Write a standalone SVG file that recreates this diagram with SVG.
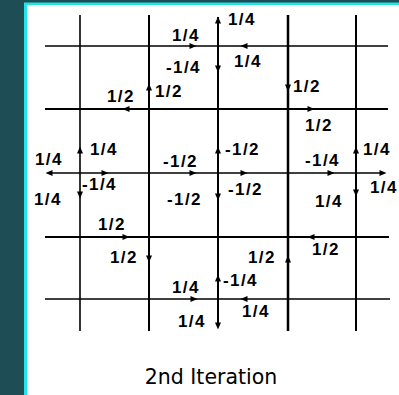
<svg xmlns="http://www.w3.org/2000/svg" width="399" height="395" viewBox="0 0 399 395">
<style>
.g{stroke:#000;fill:none;stroke-linecap:butt}
.v{stroke-width:2}
.h{stroke-width:1.5}
.t{font-family:"Liberation Sans",Arial,sans-serif;font-weight:bold;font-size:17px;letter-spacing:1.4px;fill:#000}
.cap{font-family:"DejaVu Sans",Verdana,sans-serif;font-size:20.5px;fill:#000}
</style>
<defs>
<path id="ah" d="M3.5,0 L-3.5,-3 L-3.5,3 Z" fill="#000"/>
</defs>
<rect x="0" y="0" width="399" height="395" fill="#1e4d55"/>
<rect x="24" y="2.5" width="375" height="392.5" fill="#22e3e6"/>
<rect x="27" y="5" width="372" height="390" fill="#fff"/>
<g id="grid">
<line class="g v" x1="80" y1="15" x2="80" y2="331" style="stroke-width:1.6"/>
<line class="g v" x1="149" y1="15" x2="149" y2="331"/>
<line class="g v" x1="218" y1="17" x2="218" y2="327"/>
<line class="g v" x1="288" y1="15" x2="288" y2="331" style="stroke-width:2.5"/>
<line class="g v" x1="356" y1="15" x2="356" y2="331"/>
<line class="g h" x1="45" y1="46" x2="388" y2="46"/>
<line class="g h" x1="45" y1="109" x2="388" y2="109" style="stroke-width:2"/>
<line class="g h" x1="49" y1="173" x2="383" y2="173"/>
<line class="g h" x1="45" y1="237" x2="389" y2="237" style="stroke-width:2"/>
<line class="g h" x1="45" y1="299" x2="390" y2="299"/>
</g>
<g id="connectors">
<use href="#ah" transform="translate(218,20) rotate(-90)"/>
<use href="#ah" transform="translate(193,46)"/>
<use href="#ah" transform="translate(244,46) rotate(180)"/>
<use href="#ah" transform="translate(218,69) rotate(90)"/>
<use href="#ah" transform="translate(126,109) rotate(180)"/>
<use href="#ah" transform="translate(149,87) rotate(-90)"/>
<use href="#ah" transform="translate(288,88) rotate(90)"/>
<use href="#ah" transform="translate(311,109)"/>
<use href="#ah" transform="translate(80,150) rotate(-90)"/>
<use href="#ah" transform="translate(49,173) rotate(180)"/>
<use href="#ah" transform="translate(105,173)"/>
<use href="#ah" transform="translate(80,195) rotate(90)"/>
<use href="#ah" transform="translate(193,173)"/>
<use href="#ah" transform="translate(218,150) rotate(-90)"/>
<use href="#ah" transform="translate(218,197) rotate(90)"/>
<use href="#ah" transform="translate(244,173)"/>
<use href="#ah" transform="translate(331,173)"/>
<use href="#ah" transform="translate(356,150) rotate(-90)"/>
<use href="#ah" transform="translate(383,173)"/>
<use href="#ah" transform="translate(356,193) rotate(90)"/>
<use href="#ah" transform="translate(126,237)"/>
<use href="#ah" transform="translate(149,259) rotate(90)"/>
<use href="#ah" transform="translate(288,259) rotate(-90)"/>
<use href="#ah" transform="translate(311,237) rotate(180)"/>
<use href="#ah" transform="translate(218,278) rotate(-90)"/>
<use href="#ah" transform="translate(194,299)"/>
<use href="#ah" transform="translate(244,299) rotate(180)"/>
<use href="#ah" transform="translate(218,326) rotate(90)"/>
</g>
<g id="labels">
<text class="t" x="228" y="25">1/4</text>
<text class="t" x="172" y="41">1/4</text>
<text class="t" x="234" y="67">1/4</text>
<text class="t" x="166" y="73">-1/4</text>
<text class="t" x="107" y="102">1/2</text>
<text class="t" x="155" y="97">1/2</text>
<text class="t" x="293" y="92">1/2</text>
<text class="t" x="305" y="131">1/2</text>
<text class="t" x="90" y="155">1/4</text>
<text class="t" x="35" y="165">1/4</text>
<text class="t" x="82" y="190">-1/4</text>
<text class="t" x="34" y="205">1/4</text>
<text class="t" x="163" y="167">-1/2</text>
<text class="t" x="167" y="205">-1/2</text>
<text class="t" x="225" y="155">-1/2</text>
<text class="t" x="228" y="195">-1/2</text>
<text class="t" x="305" y="166">-1/4</text>
<text class="t" x="363" y="155">1/4</text>
<text class="t" x="370" y="193">1/4</text>
<text class="t" x="315" y="207">1/4</text>
<text class="t" x="98" y="230">1/2</text>
<text class="t" x="110" y="263">1/2</text>
<text class="t" x="248" y="263">1/2</text>
<text class="t" x="312" y="255">1/2</text>
<text class="t" x="223" y="286">-1/4</text>
<text class="t" x="172" y="293">1/4</text>
<text class="t" x="242" y="317">1/4</text>
<text class="t" x="178" y="327">1/4</text>
</g>
<text class="cap" x="211" y="384" text-anchor="middle">2nd Iteration</text>
</svg>
